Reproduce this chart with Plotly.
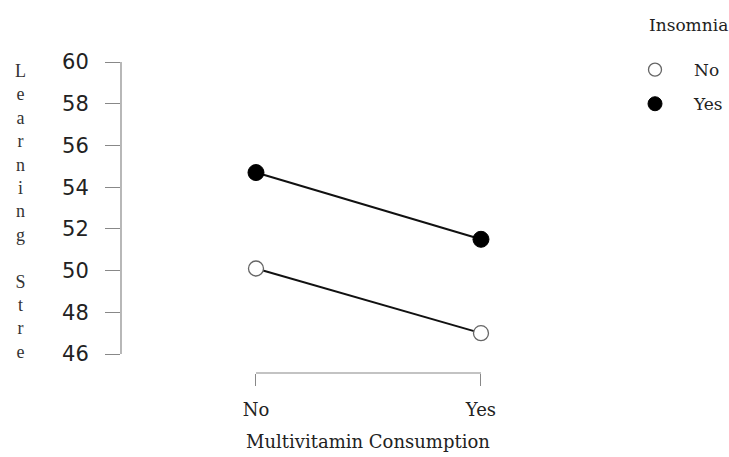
import plotly.graph_objects as go

# Data
vitamin_levels = ["No", "Yes"]
insomnia_groups = ["No", "Yes"]
score_insomnia_no = [50.1, 47.0]
score_insomnia_yes = [54.7, 51.5]
y_ticks = [46, 48, 50, 52, 54, 56, 58, 60]
y_title = "Learning Stre"
x_title = "Multivitamin Consumption"
legend_title = "Insomnia"

serif = "DejaVu Serif, serif"
sans = "DejaVu Sans, sans-serif"
x_pos = list(range(len(vitamin_levels)))

open_marker = dict(symbol="circle", size=15, color="white",
                   line=dict(color="#666666", width=1.3))
filled_marker = dict(symbol="circle", size=16, color="black",
                     line=dict(color="black", width=1))

fig = go.Figure()
for scores, marker in ((score_insomnia_no, open_marker),
                       (score_insomnia_yes, filled_marker)):
    fig.add_trace(go.Scatter(
        x=x_pos, y=scores, mode="lines+markers", showlegend=False,
        line=dict(color="#111111", width=2), marker=marker,
    ))

# Legend entries show the point symbols only
for name, marker in zip(insomnia_groups, (open_marker, filled_marker)):
    m = dict(marker)
    m["size"] = marker["size"] - 2
    fig.add_trace(go.Scatter(
        x=[None], y=[None], mode="markers", name=name, marker=m,
        legendgroup=name, showlegend=True,
    ))

# Base-graphics style axes: lines span only the tick range
fig.add_shape(type="line", xref="paper", yref="y", x0=0, x1=0,
              y0=min(y_ticks), y1=max(y_ticks),
              line=dict(color="#888888", width=1.2))
fig.add_shape(type="line", xref="x", yref="paper", x0=x_pos[0], x1=x_pos[-1],
              y0=0, y1=0, line=dict(color="#888888", width=1.2))

# Stacked vertical axis title
fig.add_annotation(
    text="<br>".join(ch if ch != " " else "&nbsp;" for ch in y_title),
    xref="paper", yref="paper", x=-0.21, y=1.01, xanchor="center", yanchor="top",
    showarrow=False, align="center",
    font=dict(family="Liberation Serif, serif", size=18, color="#333333"),
)
fig.add_annotation(
    text=x_title, xref="x", yref="paper",
    x=0.5, y=-0.22, xanchor="center", yanchor="middle", showarrow=False,
    font=dict(family=serif, size=18, color="#222222"),
)
fig.add_annotation(
    text=legend_title, xref="paper", yref="paper",
    x=1.099, y=1.12, xanchor="left", yanchor="middle", showarrow=False,
    font=dict(family=serif, size=17, color="#222222"),
)

fig.update_layout(
    width=729, height=457,
    margin=dict(l=121, r=129, t=62, b=84, autoexpand=False),
    paper_bgcolor="white", plot_bgcolor="white",
    showlegend=True,
    legend=dict(
        font=dict(family=serif, size=17, color="#222222"),
        xref="container", yref="container",
        x=0.845, y=0.886, xanchor="left", yanchor="top",
        bgcolor="rgba(0,0,0,0)", itemwidth=68, tracegroupgap=9,
    ),
    xaxis=dict(
        range=[-0.6, 1.529], tickvals=x_pos, ticktext=vitamin_levels,
        showline=False, showgrid=False, zeroline=False,
        ticks="outside", ticklen=12, tickcolor="#888888", tickwidth=1.2,
        ticklabelstandoff=8,
        tickfont=dict(family=serif, size=18, color="#222222"),
    ),
    yaxis=dict(
        range=[45.09, 60.0], tickvals=y_ticks,
        showline=False, showgrid=False, zeroline=False,
        ticks="outside", ticklen=15, tickcolor="#888888", tickwidth=1.2,
        ticklabelstandoff=12,
        tickfont=dict(family=sans, size=21, color="#222222"),
    ),
)

fig.write_html("out.html")
